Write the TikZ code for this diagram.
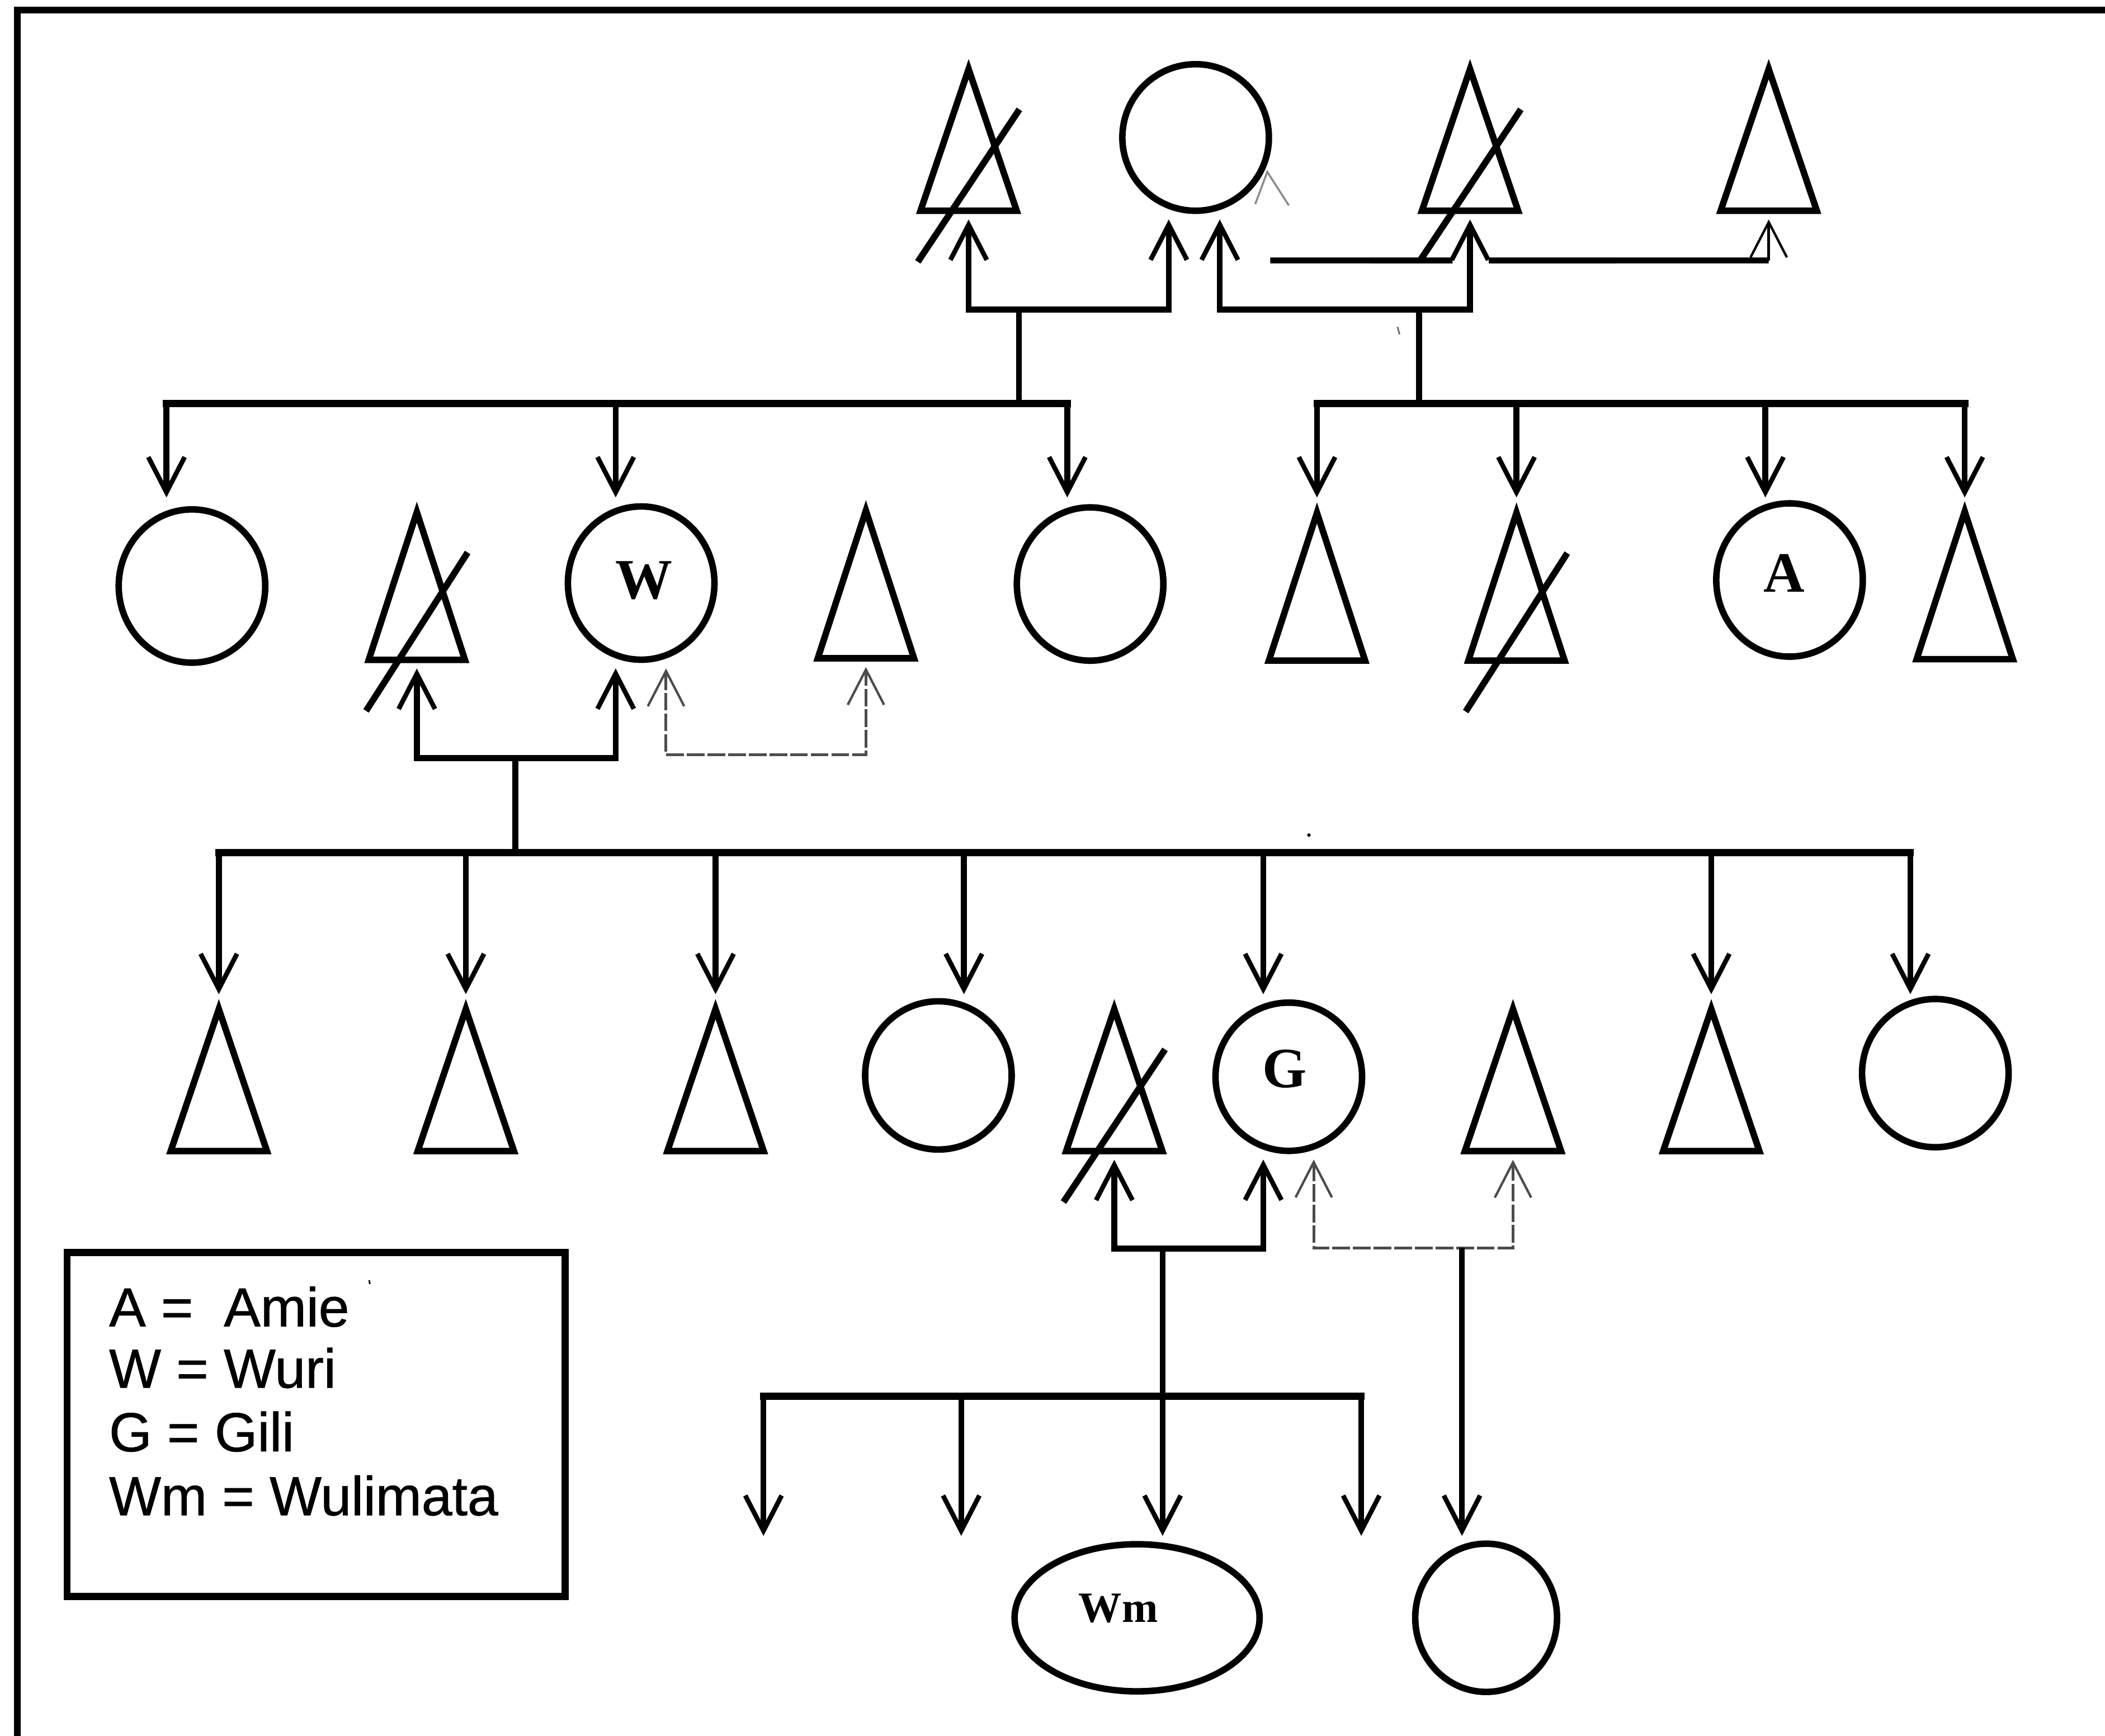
\documentclass[tikz,border=0pt]{standalone}
\usepackage{fontspec}
\setmainfont{Liberation Sans}
\newfontfamily\kinserif{Liberation Serif}
\newfontfamily\kinsans{Liberation Sans}[FakeBold=0.8]
\usetikzlibrary{arrows.meta,calc,shapes.geometric}

\tikzset{
  barb/.tip={Straight Barb[length=6.3mm,width=6.5mm,line width=2.4pt,sharp]},
  lightbarb/.tip={Straight Barb[length=6.3mm,width=6.5mm,line width=1.2pt,sharp]},
  shapeline/.style={line width=3.3pt},
  link/.style={line width=3pt},
  barline/.style={line width=3.6pt,line cap=rect},
  thinlink/.style={line width=1.3pt},
  lightlink/.style={line width=1.4pt,black!70,dash pattern=on 9pt off 1.5pt},
  tribox/.style={rectangle,draw=none,inner sep=0pt,outer sep=0pt,minimum width=1.72cm,minimum height=#1},
  ring/.style={ellipse,draw,line width=3.3pt,inner sep=0pt,outer sep=0pt},
  ring1/.style={ring,minimum width=2.62cm,minimum height=2.62cm},
  ring2/.style={ring,minimum width=2.62cm,minimum height=2.74cm},
  ring3/.style={ring,minimum width=2.62cm,minimum height=2.65cm},
  tag/.style={inner sep=0pt,font=\kinserif\bfseries\fontsize{29}{29}\selectfont},
  legtext/.style={anchor=base west,inner sep=0pt,font=\kinsans\fontsize{28}{32}\selectfont}
}

% a triangle (male) drawn inside an invisible box node
\newcommand\kintri[3]{%
  \node[tribox=#3] (#1) at (#2) {};
  \draw[shapeline] (#1.north) -- (#1.south east) -- (#1.south west) -- cycle;}
% the diagonal stroke through a deceased person
\newcommand\kinstrike[1]{%
  \draw[shapeline] ($(#1.south west)+(-2,38)$) -- ($(#1.north east)+(2,30)$);}
% arrow from a sibling bar down to a point above a node
\newcommand\kindrop[4]{%
  \draw[link,-{barb}] let \p1=($(#1.north)+(#2,0)$), \p2=(#3), \p3=(#4)
    in (\x1,\y2) -- (\x1,\y3);}
% horizontal sibling bar between two drop positions
\newcommand\kinbar[5]{%
  \draw[barline] let \p1=($(#1.north)+(#2,0)$), \p2=($(#3.north)+(#4,0)$), \p3=(#5)
    in (\x1,\y3) -- (\x2,\y3);}

\begin{document}
\begin{tikzpicture}[x=0.024005cm,y=-0.024005cm]
\useasboundingbox (0,0) rectangle (1568,1293);
\fill[white] (0,0) rectangle (1568,1293);

% outer frame
\draw[line width=3.3pt] (13,1310) -- (13,7.5) -- (1580,7.5);

% ---------- generation 1 ----------
\kintri{t11}{721.5,104.25}{2.533cm} \kinstrike{t11}
\node[ring1] (c11) at (890.6,102.4) {};
\kintri{t12}{1095,104.25}{2.533cm} \kinstrike{t12}
\kintri{t13}{1317.5,104.25}{2.533cm}

% ---------- generation 2 ----------
\node[ring2] (c21) at (143,436.5) {};
\kintri{t21}{310.5,436.5}{2.64cm} \kinstrike{t21}
\node[ring2] (w) at (477.6,434.3) {};
\node[tag] (w-l) at ($(w)+(2,-2)$) {W};
\kintri{t22}{645,435.3}{2.64cm}
\node[ring2] (c22) at (812,435) {};
\kintri{t23}{981,437}{2.64cm}
\kintri{t24}{1129.6,437}{2.64cm} \kinstrike{t24}
\node[ring2] (a) at (1333,432) {};
\node[tag] (a-l) at ($(a)+(-4,-5)$) {A};
\kintri{t25}{1463.5,436}{2.64cm}

% ---------- generation 3 ----------
\kintri{t31}{163,804.5}{2.537cm}
\kintri{t32}{347,804.5}{2.537cm}
\kintri{t33}{533,804.5}{2.537cm}
\node[ring3] (c31) at (699,801) {};
\kintri{t34}{830,804.5}{2.537cm} \kinstrike{t34}
\node[ring3] (g) at (960,802) {};
\node[tag] (g-l) at ($(g)+(-3,-6)$) {G};
\kintri{t35}{1127,804.5}{2.537cm}
\kintri{t36}{1274.7,804.5}{2.537cm}
\node[ring3] (c32) at (1441.6,799.3) {};

% ---------- generation 4 ----------
\node[ring,minimum width=4.38cm,minimum height=2.63cm] (wm) at (847,1205) {};
\node[tag,font=\kinserif\bfseries\fontsize{22}{22}\selectfont] (wm-l) at ($(wm)+(-14,-7)$) {Wm};
\node[ring,minimum width=2.535cm,minimum height=2.65cm] (c41) at (1107,1205) {};

% ---------- unions of generation 1 ----------
\coordinate (u11) at ($(t11.south)+(0,6.5)$);
\coordinate (u12) at ($(c11.south)+(-20,6.5)$);
\coordinate (m1) at (759,230.5);
\draw[link,{barb}-{barb}] (u11) -- (u11 |- m1) -- (u12 |- m1) -- (u12);

\coordinate (u13) at ($(c11.south)+(18,6.5)$);
\coordinate (u14) at ($(t12.south)+(0,6.5)$);
\coordinate (m2) at (1057,230.5);
\draw[link,{barb}-{barb}] (u13) -- (u13 |- m2) -- (u14 |- m2) -- (u14);

% link from c11 to t13, interrupted at the arrow under t12
\coordinate (u15) at ($(t13.south)+(0,6.5)$);
\coordinate (h1) at ($(c11.east)+(1,91.6)$);
\draw[link] (h1) -- ($(t12.south)+(-13,37)$);
\draw[link] ($(t12.south)+(14,37)$) -- (u15 |- h1);
\draw[thinlink,-{lightbarb}] (u15 |- h1) -- (u15);

% faint marks beside c11
\draw[black!45,line width=1pt] (935,152) -- (944,128) -- (960,153);
\draw[black!60,line width=0.8pt] (1041,243.5) -- (1042.5,249);

% ---------- children of generation 1 ----------
\coordinate (f1) at (759,300.5);
\coordinate (f2) at (1057,300.5);
\coordinate (tip2) at (0,370.5);
\draw[link] (m1) -- (f1);
\draw[link] (m2) -- (f2);
\kinbar{c21}{-19}{c22}{-17}{f1}
\kindrop{c21}{-19}{f1}{tip2}
\kindrop{w}{-19}{f1}{tip2}
\kindrop{c22}{-17}{f1}{tip2}
\kinbar{t23}{0}{t25}{0}{f2}
\kindrop{t23}{0}{f2}{tip2}
\kindrop{t24}{0}{f2}{tip2}
\kindrop{a}{-18}{f2}{tip2}
\kindrop{t25}{0}{f2}{tip2}

% ---------- unions of generation 2 ----------
\coordinate (u21) at ($(t21.south)+(0,6.5)$);
\coordinate (u22) at ($(w.south)+(-19,6.5)$);
\coordinate (m3) at (383.8,564.6);
\draw[link,{barb}-{barb}] (u21) -- (u21 |- m3) -- (u22 |- m3) -- (u22);

\coordinate (u23) at ($(w.south)+(18.5,6.5)$);
\coordinate (u24) at ($(t22.south)+(0,6.5)$);
\coordinate (n1) at (570,562);
\draw[lightlink,{lightbarb}-{lightbarb}] (u23) -- (u23 |- n1) -- (u24 |- n1) -- (u24);

% ---------- children of generation 2 ----------
\coordinate (f3) at (383.8,635);
\coordinate (tip3) at (0,740.5);
\draw[link] (m3) -- (f3);
\kinbar{t31}{0}{c32}{-18.6}{f3}
\kindrop{t31}{0}{f3}{tip3}
\kindrop{t32}{0}{f3}{tip3}
\kindrop{t33}{0}{f3}{tip3}
\kindrop{c31}{19}{f3}{tip3}
\kindrop{g}{-19}{f3}{tip3}
\kindrop{t36}{0}{f3}{tip3}
\kindrop{c32}{-18.6}{f3}{tip3}
\fill (975,622) circle (1.3);

% ---------- unions of generation 3 ----------
\coordinate (u31) at ($(t34.south)+(0,6.5)$);
\coordinate (u32) at ($(g.south)+(-19,6.5)$);
\coordinate (m5) at (866,930);
\draw[link,{barb}-{barb}] (u31) -- (u31 |- m5) -- (u32 |- m5) -- (u32);

\coordinate (u33) at ($(g.south)+(18.6,6.5)$);
\coordinate (u34) at ($(t35.south)+(0,6.5)$);
\coordinate (n2) at (1089,929.5);
\draw[lightlink,{lightbarb}-{lightbarb}] (u33) -- (u33 |- n2) -- (u34 |- n2) -- (u34);

% ---------- children of generation 3 ----------
\coordinate (tip4) at (0,1144);
\coordinate (f4) at (866,1040);
\coordinate (k1) at (568.7,1144);
\coordinate (k2) at (716,1144);
\coordinate (k4) at (1014,1144);
\draw[link,-{barb}] (m5) -- (m5 |- tip4);
\draw[barline] (k1 |- f4) -- (k4 |- f4);
\foreach \k in {k1,k2,k4} \draw[link,-{barb}] (\k |- f4) -- (\k);
\draw[link,-{barb}] (n2) -- (n2 |- tip4);

% ---------- legend ----------
\node[draw,line width=3.6pt,minimum width=8.906cm,minimum height=6.145cm,
      inner sep=0pt,outer sep=0pt] (legend) at (235.5,1061) {};
\node[legtext] (leg-a) at (81,988) {A = \ Amie};
\node[legtext] (leg-w) at (81,1033.6) {W = Wuri};
\node[legtext] (leg-g) at (81,1081) {G = Gili};
\node[legtext] (leg-wm) at (81,1128.6) {Wm = Wulimata};
\draw[line width=0.8pt] (275,953.5) -- (275.5,956.5);
\end{tikzpicture}
\end{document}
